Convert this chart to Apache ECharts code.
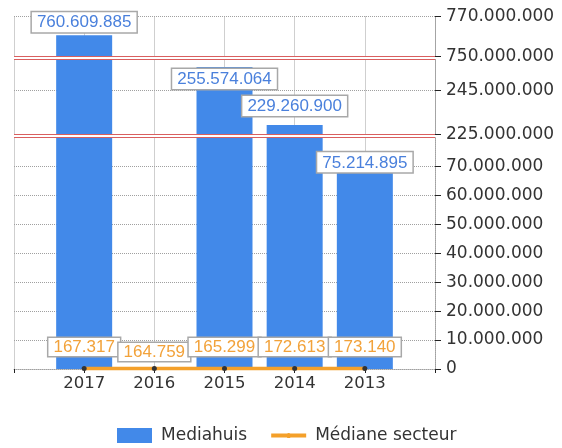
<!DOCTYPE html>
<html>
<head>
<meta charset="utf-8">
<script src="https://cdn.jsdelivr.net/npm/echarts@6/dist/echarts.min.js"></script>
<style>html,body{margin:0;padding:0;background:#fff}#main{width:562px;height:448px}</style>
</head>
<body>
<div id="main"></div>
<script>
var years = ['2017', '2016', '2015', '2014', '2013'];
var mediahuis = [760609885, null, 255574064, 229260900, 75214895];
var mediane = [167317, 164759, 165299, 172613, 173140];
// broken y axis: pieces from bottom to top
var segMin = [0, 225000000, 750000000];
var segMax = [80000000, 259000000, 770000000];
var segStep = [10000000, 20000000, 20000000];

var chart = echarts.init(document.getElementById('main'));

function fmt(v) {
    return String(Math.round(v)).replace(/\B(?=(\d{3})+(?!\d))/g, '.');
}

var gridBox = [{top: 137.5, height: 231.5}, {top: 59.5, height: 75}, {top: 16.5, height: 40}];
var barLabelPos = {'2017': ['top', 3], '2015': ['insideTop', 2], '2014': ['top', 9], '2013': ['insideTop', 1]};
var dotted = {color: '#a0a0a0', type: 'dotted', width: 1};
var boxLabel = {
    fontSize: 17, fontFamily: 'Liberation Sans', backgroundColor: '#fff',
    borderColor: '#a8a8a8', borderWidth: 1.5, padding: [2, 5, 1, 5]
};

var grid = [], xAxis = [], yAxis = [], series = [];
for (var i = 0; i < 3; i++) {
    grid.push({left: 14, right: 127, top: gridBox[i].top, height: gridBox[i].height});
    xAxis.push({
        type: 'value', gridIndex: i, min: -1, max: 5, interval: 1,
        axisLine: {show: i === 0, onZero: false, lineStyle: dotted},
        axisTick: {show: i === 0, length: 4, lineStyle: {color: '#222'}},
        axisLabel: {
            show: i === 0, margin: 6, fontSize: 16.5, color: '#333', fontFamily: 'DejaVu Sans',
            formatter: function (v) { return years[v] || ''; }
        },
        splitLine: {show: true, lineStyle: dotted}
    });
    yAxis.push({
        type: 'value', gridIndex: i, position: 'right',
        min: segMin[i], max: segMax[i], interval: segStep[i],
        axisLine: {show: true, onZero: false, lineStyle: dotted},
        axisTick: {show: true, length: 6, lineStyle: {color: '#222'}},
        axisLabel: {
            showMaxLabel: i === 2, margin: 11, fontSize: 17, color: '#333', fontFamily: 'DejaVu Sans',
            formatter: fmt
        },
        splitLine: {show: true, showMinLine: false, showMaxLine: i === 2, lineStyle: dotted}
    });

    var lines = [];
    if (i < 2) lines.push({yAxis: segMax[i]});
    if (i > 0) lines.push({yAxis: segMin[i]});

    (function (seg) {
        series.push({
            type: 'bar', name: 'Mediahuis', xAxisIndex: seg, yAxisIndex: seg,
            barWidth: 56,
            itemStyle: {color: '#4289e9'},
            label: Object.assign({
                show: false, color: '#4a80dc',
                formatter: function (p) { return fmt(p.value[1]); }
            }, boxLabel),
            data: mediahuis.map(function (v, k) {
                var item = {value: [k, v]};
                var pos = barLabelPos[years[k]];
                if (v != null && pos && v >= segMin[seg] && v <= segMax[seg]) {
                    item.label = {show: true, position: pos[0], distance: pos[1]};
                }
                return item;
            }),
            markLine: {
                silent: true, symbol: 'none', label: {show: false},
                lineStyle: {color: '#d95f5f', width: 1, type: 'solid'},
                data: lines
            }
        });
    })(i);
}

series.push({
    type: 'line', name: 'Médiane secteur', xAxisIndex: 0, yAxisIndex: 0, z: 5,
    clip: false,
    symbol: 'circle', symbolSize: 5,
    itemStyle: {color: '#333'},
    lineStyle: {color: '#f4a02a', width: 3.5},
    label: Object.assign({
        show: true, position: 'top', distance: 10, color: '#f2a23a',
        formatter: function (p) { return fmt(p.value[1]); }
    }, boxLabel, {padding: [1, 5, 0, 5]}),
    data: mediane.map(function (v, k) {
        var item = {value: [k, v]};
        if (years[k] === '2016') item.label = {distance: 5};
        return item;
    })
});

var option = {
    animation: false,
    grid: grid,
    xAxis: xAxis,
    yAxis: yAxis,
    legend: {
        left: 117, top: 427, padding: 0, itemWidth: 35, itemHeight: 15, itemGap: 24,
        textStyle: {fontSize: 17, color: '#333', fontFamily: 'DejaVu Sans', padding: [0, 0, 0, 4]},
        data: [
            {name: 'Mediahuis', icon: 'rect'},
            {
                name: 'Médiane secteur',
                icon: 'path://M0,0.5H34V4.5H0Z M14.5,2.5A2.5,2.5,0,1,1,19.5,2.5A2.5,2.5,0,1,1,14.5,2.5Z',
                itemStyle: {color: '#f4a02a'}
            }
        ]
    },
    series: series
};

chart.setOption(option, true);
</script>
</body>
</html>
